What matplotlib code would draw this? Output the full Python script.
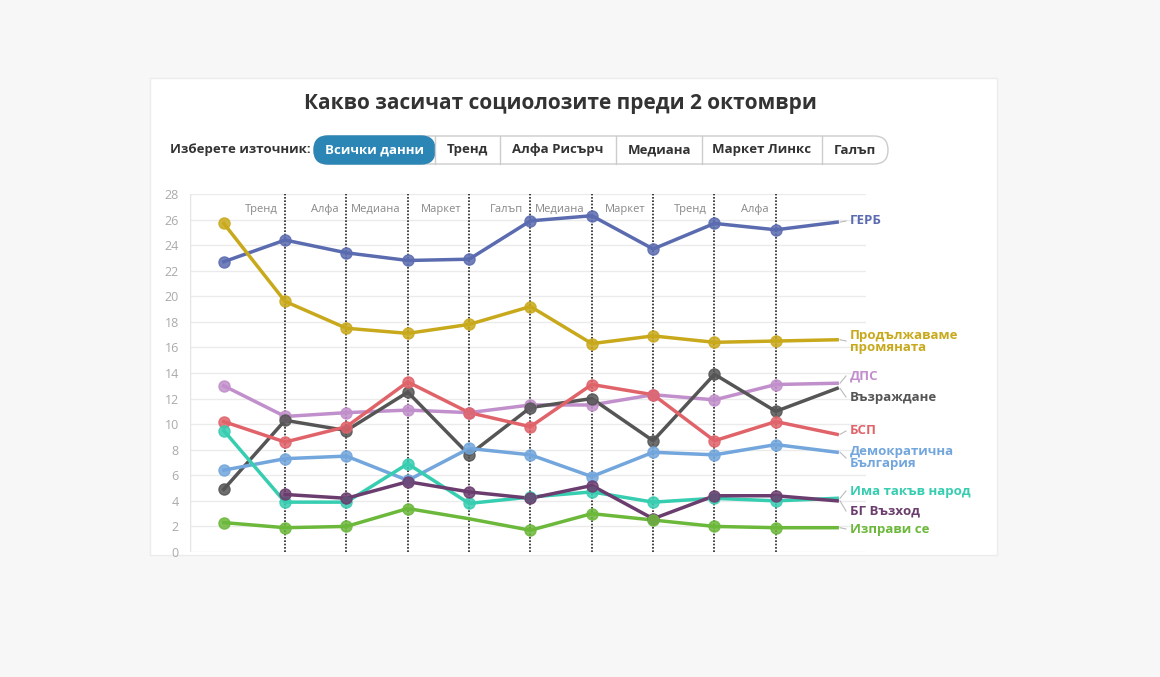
import numpy as np
import matplotlib.pyplot as plt
from matplotlib.patches import Rectangle, FancyBboxPatch

plt.rcParams['font.family'] = 'Open Sans'

W, H = 1160, 677

x = np.arange(11)
sources = ['Тренд', 'Алфа', 'Медиана', 'Маркет', 'Галъп', 'Медиана', 'Маркет', 'Тренд', 'Алфа']
gerb = [22.7, 24.4, 23.4, 22.8, 22.9, 25.9, 26.3, 23.7, 25.7, 25.2, 25.8]
pp = [25.7, 19.6, 17.5, 17.1, 17.8, 19.2, 16.3, 16.9, 16.4, 16.5, 16.6]
dps = [13.0, 10.6, 10.9, 11.1, 10.9, 11.5, 11.5, 12.3, 11.9, 13.1, 13.2]
vaz = [4.9, 10.3, 9.5, 12.5, 7.6, 11.3, 12.0, 8.7, 13.9, 11.0, 12.8]
bsp = [10.2, 8.6, 9.8, 13.3, 10.9, 9.8, 13.1, 12.3, 8.7, 10.2, 9.2]
db = [6.4, 7.3, 7.5, 5.6, 8.1, 7.6, 5.9, 7.8, 7.6, 8.4, 7.8]
itn = [9.5, 3.9, 3.9, 6.9, 3.8, 4.3, 4.7, 3.9, 4.2, 4.0, 4.2]
bgv = [np.nan, 4.5, 4.2, 5.5, 4.7, 4.2, 5.2, 2.6, 4.4, 4.4, 4.0]
izp = [2.3, 1.9, 2.0, 3.4, 2.6, 1.7, 3.0, 2.5, 2.0, 1.9, 1.9]
izp_missing = [4]  # no poll value, line only

series = [
    ('ГЕРБ', gerb, '#5b6bb0', 221),
    ('Продължаваме\nпромяната', pp, '#c9a91c', 341),
    ('ДПС', dps, '#c18fcb', 376),
    ('Възраждане', vaz, '#555555', 397),
    ('БСП', bsp, '#e0636a', 431),
    ('Демократична\nБългария', db, '#72a6dc', 458),
    ('Има такъв народ', itn, '#36cdb1', 491),
    ('БГ Възход', bgv, '#6b3d6e', 511),
    ('Изправи се', izp, '#6bb83a', 529),
]

fig = plt.figure(figsize=(W / 100, H / 100), dpi=100)
fig.patch.set_facecolor('#f7f7f8')

# white card
fig.patches.append(Rectangle((150 / W, 1 - 555 / H), 847 / W, 477 / H,
                             transform=fig.transFigure, facecolor='white',
                             edgecolor='#ececec', zorder=-5))

fig.text(560 / W, 1 - 104 / H, 'Какво засичат социолозите преди 2 октомври',
         ha='center', va='center', fontsize=15, fontweight='bold', color='#333333')

# source buttons
fig.text(170 / W, 1 - 150 / H, 'Изберете източник:', ha='left', va='center',
         fontsize=9.5, fontweight='bold', color='#333333')
btns = ['Всички данни', 'Тренд', 'Алфа Рисърч', 'Медиана', 'Маркет Линкс', 'Галъп']
edges = [314, 435, 500, 616, 702, 822, 888]
box = dict(boxstyle='round,pad=0,rounding_size=0.012', transform=fig.transFigure,
           mutation_aspect=W / H)
fig.patches.append(FancyBboxPatch((314 / W, 1 - 164 / H), 574 / W, 28 / H,
                                  facecolor='white', edgecolor='#cccccc', lw=1, zorder=-4, **box))
for i, b in enumerate(btns):
    x0, x1 = edges[i], edges[i + 1]
    if i == 0:
        fig.patches.append(FancyBboxPatch((x0 / W, 1 - 164 / H), (x1 - x0) / W, 28 / H,
                                          facecolor='#2b86b6', edgecolor='#2b86b6',
                                          zorder=-3, **box))
    else:
        fig.add_artist(plt.Line2D([x0 / W, x0 / W], [1 - 164 / H, 1 - 136 / H],
                                  color='#cccccc', lw=1))
    fig.text((x0 + x1) / 2 / W, 1 - 150 / H, b, ha='center', va='center', fontsize=9.5,
             fontweight='bold', color='white' if i == 0 else '#333333')

ax = fig.add_axes([190 / W, 1 - 552 / H, 676 / W, 358 / H])
ax.set_facecolor('none')
ax.set_xlim(-0.55, 10.47)
ax.set_ylim(0, 28)
ax.set_yticks(range(0, 29, 2))
ax.tick_params(axis='y', colors='#aaaaaa', labelsize=9, length=0, pad=8)
ax.set_xticks([])
ax.grid(axis='y', color='#ebebeb', lw=1)
ax.set_axisbelow(True)
for s in ax.spines.values():
    s.set_visible(False)
ax.axvline(-0.55, color='#e5e5e5', lw=1)

for i, name in enumerate(sources):
    ax.axvline(i + 1, color='#222222', lw=1.2, ls=(0, (1, 1)), zorder=1)
    ax.text(i + 0.88, 26.8, name, ha='right', va='center', fontsize=8, color='#888888')

for name, vals, col, yl in series:
    v = np.array(vals, dtype=float)
    ax.plot(x, v, color=col, lw=2.5, zorder=3)
    mv = v.copy()
    mv[-1] = np.nan
    if vals is izp:
        mv[izp_missing] = np.nan
    ax.plot(x, mv, 'o', color=col, ms=8, alpha=0.85, zorder=4)
    # connector from line end to label
    fig.add_artist(plt.Line2D([840 / W, 846 / W],
                              [ax.transData.transform((10, v[-1]))[1] / H, 1 - yl / H],
                              color='#bbbbbb', lw=0.8))
    fig.text(850 / W, 1 - yl / H, name, ha='left', va='center', fontsize=9.5,
             fontweight='bold', color=col, linespacing=0.9)

fig.savefig('out.png', dpi=100, facecolor=fig.get_facecolor())
